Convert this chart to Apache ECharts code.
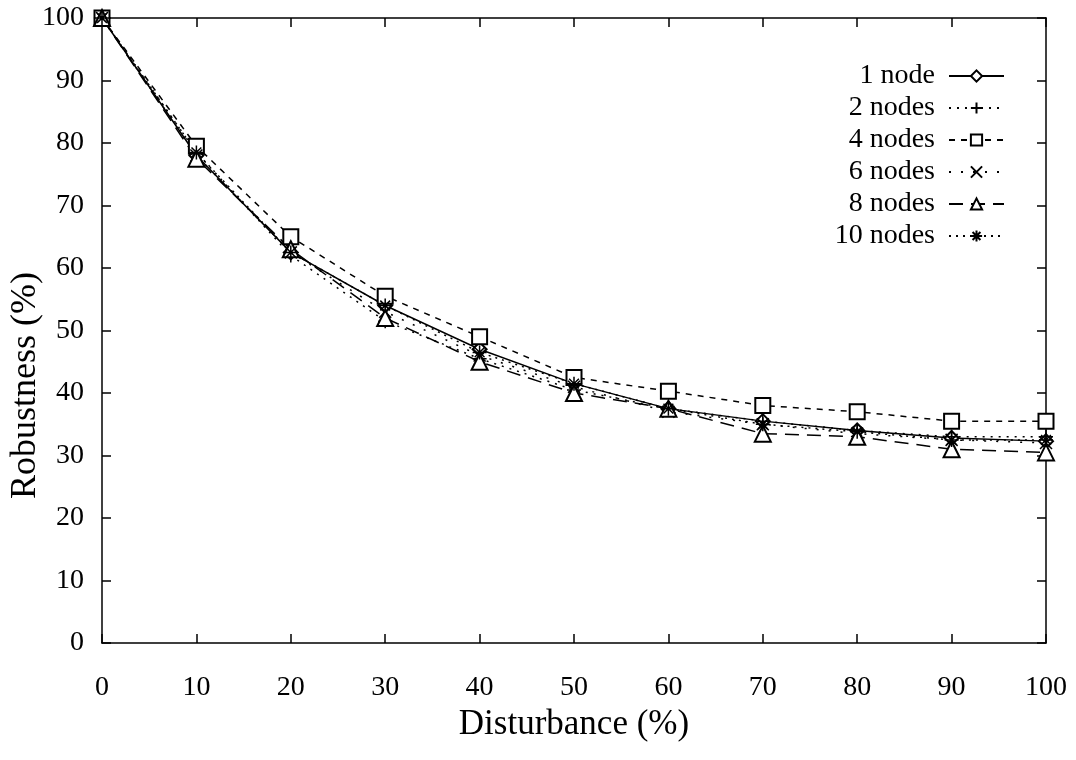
<!DOCTYPE html>
<html>
<head>
<meta charset="utf-8">
<script src="https://cdn.jsdelivr.net/npm/echarts@6/dist/echarts.min.js"></script>
<style>html,body{margin:0;padding:0;background:#fff;}#c{width:1076px;height:760px;}</style>
</head>
<body>
<div id="c"></div>
<script>
var disturbance = [0,10,20,30,40,50,60,70,80,90,100];
var node1  = [100,78,62.5,54,47,41.5,37.5,35.5,34,32.8,32.3];
var node2  = [100,78.5,62,51.5,45.5,40.5,37.5,35.5,34,33,33];
var node4  = [100,79.5,65,55.5,49,42.5,40.3,38,37,35.5,35.5];
var node6  = [100,78,62.5,53,46,41,37,35,33.5,32.5,32];
var node8  = [100,77.5,63,52,45,40,37.5,33.5,33,31,30.5];
var node10 = [100,78.5,62.5,54,46.5,41.5,37.5,35,33.8,32.5,32.5];
var seriesNames = ['1 node','2 nodes','4 nodes','6 nodes','8 nodes','10 nodes'];
var xTicks = [0,10,20,30,40,50,60,70,80,90,100];
var yTicks = [0,10,20,30,40,50,60,70,80,90,100];

var FONT = '"Liberation Serif","DejaVu Serif",serif';
function pairs(ys){ return disturbance.map(function(x,i){return [x, ys[i]];}); }
var allData = [node1,node2,node4,node6,node8,node10];
var symbols = ['emptyDiamond',
  'path://M0,5L10,5M5,0L5,10',
  'emptyRect',
  'path://M0,0L10,10M10,0L0,10',
  'emptyTriangle',
  'path://M0,5L10,5M5,0L5,10M1.5,1.5L8.5,8.5M8.5,1.5L1.5,8.5'];
var sizes = [14,14,15,12,16,14];
var dashes = ['solid',[2,6],[6,6],[2,10],[14,8],[2,5]];

var series = seriesNames.map(function(n,i){
  return {
    name:n, type:'line', data:pairs(allData[i]),
    symbol:symbols[i], symbolSize:sizes[i], showAllSymbol:true,
    lineStyle:{color:'#000', width:1.5, type:dashes[i]},
    itemStyle:{color:'#000', borderColor:'#000', borderWidth:1.5},
    emphasis:{disabled:true}, animation:false
  };
});

function axisCommon(){
  return {
    type:'value', min:0, max:100, interval:10,
    axisLine:{show:true, onZero:false, lineStyle:{color:'#000', width:1.5}},
    axisTick:{show:true, inside:true, length:9, lineStyle:{color:'#000', width:1.5}},
    splitLine:{show:false}
  };
}

var chart = echarts.init(document.getElementById('c'), null, {renderer:'canvas'});
chart.setOption({
  backgroundColor:'#fff',
  animation:false,
  grid:{left:102, right:30, top:18, bottom:117, containLabel:false},
  legend:{
    orient:'vertical', right:66, top:57, align:'right',
    itemWidth:55, itemHeight:14, itemGap:4,
    textStyle:{fontFamily:FONT, fontSize:28, color:'#000', padding:[0,9,0,0]},
    data:seriesNames
  },
  xAxis:[
    Object.assign(axisCommon(), {position:'bottom',
      name:'Disturbance (%)', nameLocation:'middle', nameGap:56,
      nameTextStyle:{fontFamily:FONT, fontSize:35, color:'#000'},
      axisLabel:{fontFamily:FONT, fontSize:28, color:'#000', margin:31,
        formatter:function(v){return xTicks.indexOf(v)>=0?String(v):'';}}}),
    Object.assign(axisCommon(), {position:'top', axisLabel:{show:false}})
  ],
  yAxis:[
    Object.assign(axisCommon(), {position:'left',
      axisLabel:{fontFamily:FONT, fontSize:28, color:'#000', margin:18,
        formatter:function(v){return yTicks.indexOf(v)>=0?String(v):'';}}}),
    Object.assign(axisCommon(), {position:'right', axisLabel:{show:false}})
  ],
  graphic:[{
    type:'text', left:8, top:272, rotation:Math.PI/2,
    style:{text:'Robustness (%)', font:'36px '+FONT, fill:'#000'}
  }],
  series:series
});
</script>
</body>
</html>
